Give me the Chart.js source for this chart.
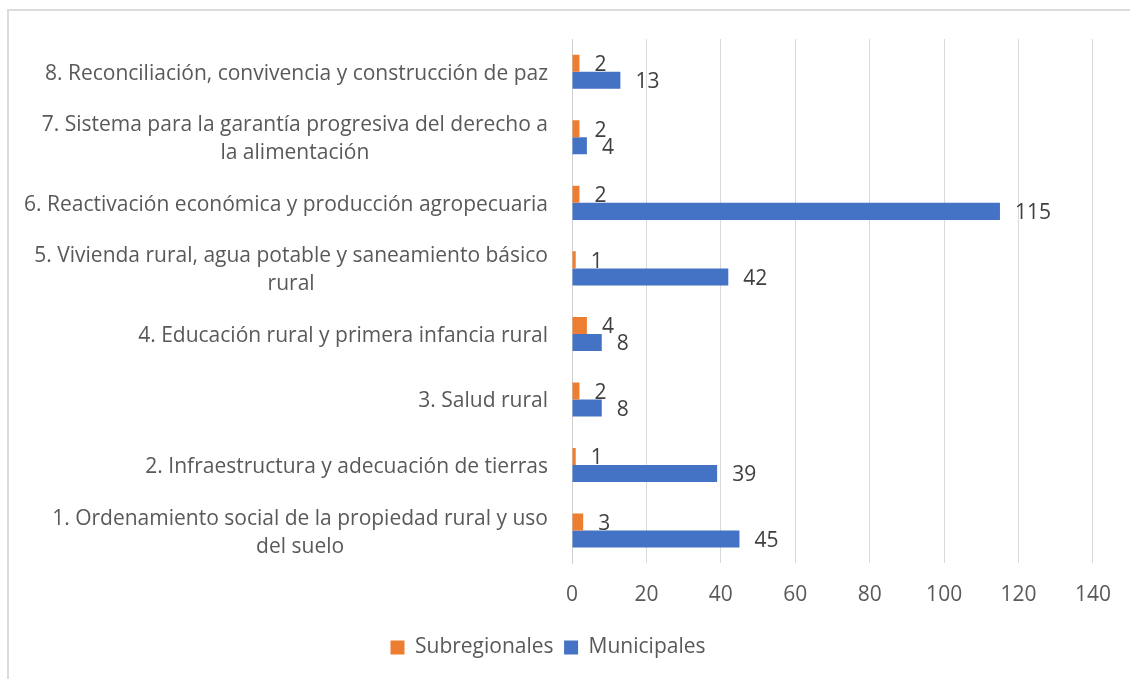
<!DOCTYPE html>
<html>
<head>
<meta charset="utf-8">
<script src="https://cdn.jsdelivr.net/npm/chart.js@4.4.1/dist/chart.umd.min.js"></script>
<style>
  body { margin: 0; background: #fff; }
  #wrap { position: relative; width: 1130px; height: 679px; overflow: hidden; }
  #marco { position: absolute; left: 7px; top: 9px; width: 1200px; height: 760px; border-top: 2px solid #dcdcdc; border-left: 2px solid #dcdcdc; }
  canvas { position: absolute; left: 0; top: 0; }
</style>
</head>
<body>
<div id="wrap">
  <div id="marco"></div>
  <canvas id="grafico" width="1130" height="679"></canvas>
</div>
<script>
// Pilares (de abajo hacia arriba), cada etiqueta partida en sus líneas
const pilares = [
  ['1. Ordenamiento social de la propiedad rural y uso', 'del suelo'],
  ['2. Infraestructura y adecuación de tierras'],
  ['3. Salud rural'],
  ['4. Educación rural y primera infancia rural'],
  ['5. Vivienda rural, agua potable y saneamiento básico', 'rural'],
  ['6. Reactivación económica y producción agropecuaria'],
  ['7. Sistema para la garantía progresiva del derecho a', 'la alimentación'],
  ['8. Reconciliación, convivencia y construcción de paz']
];
const subregionales = [3, 1, 2, 4, 1, 2, 2, 2];
const municipales = [45, 39, 8, 8, 42, 115, 4, 13];
const ticksX = [0, 20, 40, 60, 80, 100, 120, 140];

const fuente = '"Open Sans", sans-serif';
const tamFuente = 21;
const grisTexto = '#595959';

// Etiquetas del eje Y: bloque alineado a la derecha, líneas centradas entre sí
const etiquetasPilares = {
  id: 'etiquetasPilares',
  afterDraw(chart) {
    const ctx = chart.ctx;
    const y = chart.scales.y;
    const derecha = y.right - 24;
    const altoLinea = 28;
    ctx.save();
    ctx.font = tamFuente + 'px ' + fuente;
    ctx.fillStyle = grisTexto;
    ctx.textAlign = 'center';
    ctx.textBaseline = 'middle';
    pilares.forEach((lineas, i) => {
      const py = y.getPixelForValue(i);
      let ancho = 0;
      lineas.forEach(l => { ancho = Math.max(ancho, ctx.measureText(l).width); });
      const cx = derecha - ancho / 2;
      lineas.forEach((l, j) => {
        ctx.fillText(l, cx, py + 2 + (j - (lineas.length - 1) / 2) * altoLinea);
      });
    });
    ctx.restore();
  }
};

// Valores al final de cada barra
const valoresBarras = {
  id: 'valoresBarras',
  afterDatasetsDraw(chart) {
    const ctx = chart.ctx;
    ctx.save();
    ctx.font = tamFuente + 'px ' + fuente;
    ctx.fillStyle = '#404040';
    ctx.textAlign = 'left';
    ctx.textBaseline = 'middle';
    chart.data.datasets.forEach((ds, d) => {
      chart.getDatasetMeta(d).data.forEach((barra, i) => {
        ctx.fillText(ds.data[i], barra.x + 15, barra.y + 2);
      });
    });
    ctx.restore();
  }
};

new Chart(document.getElementById('grafico'), {
  type: 'bar',
  data: {
    labels: pilares.map(p => p.join(' ')),
    datasets: [
      { label: 'Subregionales', data: subregionales, backgroundColor: '#ED7D31', categoryPercentage: 0.52, barPercentage: 1 },
      { label: 'Municipales', data: municipales, backgroundColor: '#4472C4', categoryPercentage: 0.52, barPercentage: 1 }
    ]
  },
  options: {
    indexAxis: 'y',
    responsive: false,
    animation: false,
    layout: { padding: { top: 39, right: 34, bottom: 11, left: 0 } },
    scales: {
      x: {
        min: 0,
        max: 140,
        afterBuildTicks: s => { s.ticks = ticksX.map(v => ({ value: v })); },
        grid: { color: '#d9d9d9', lineWidth: 1, drawTicks: false },
        border: { display: false },
        ticks: { color: grisTexto, font: { family: fuente, size: tamFuente }, padding: 19 }
      },
      y: {
        reverse: true,
        afterFit: s => { s.width = 572; },
        grid: { display: false, drawTicks: false },
        border: { display: true, color: '#d0d0d0', width: 1 },
        ticks: { display: false }
      }
    },
    plugins: {
      legend: {
        position: 'bottom',
        labels: {
          boxWidth: 14,
          boxHeight: 14,
          padding: 10.5,
          color: grisTexto,
          font: { family: fuente, size: tamFuente }
        }
      },
      tooltip: { enabled: false }
    }
  },
  plugins: [etiquetasPilares, valoresBarras]
});
</script>
</body>
</html>
